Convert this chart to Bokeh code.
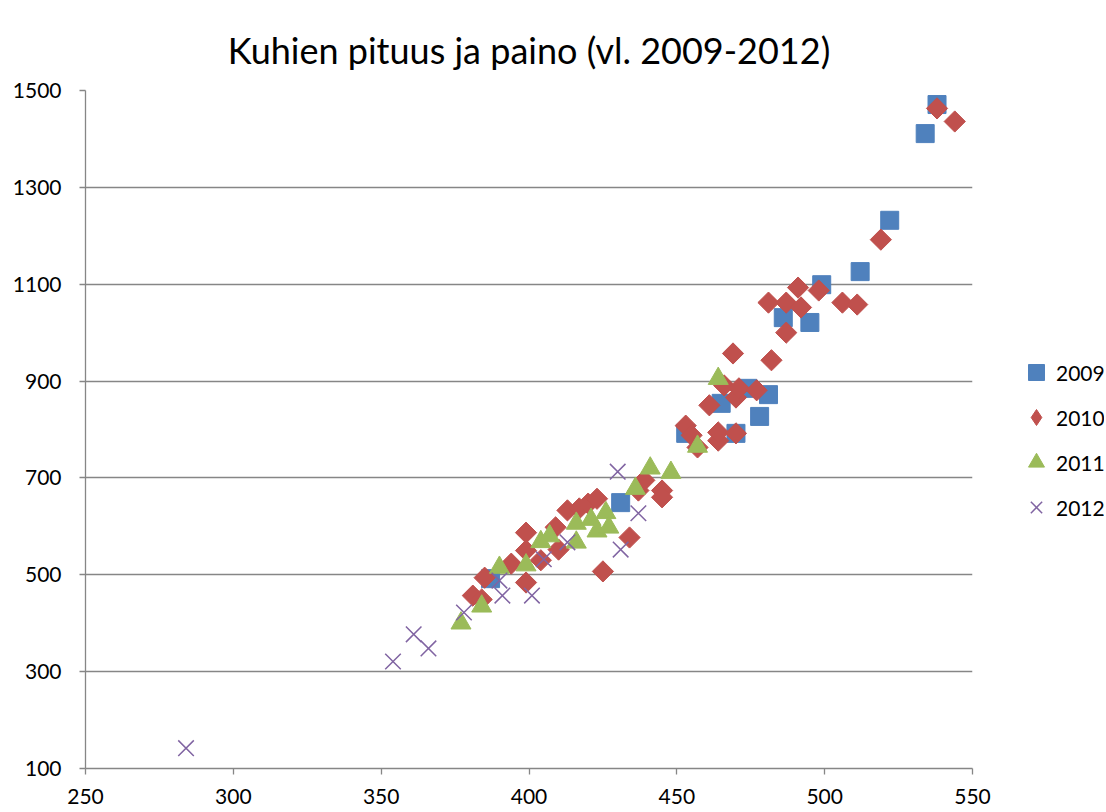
import math
from bokeh.plotting import figure
from bokeh.layouts import row
from bokeh.models import FixedTicker, Range1d, Legend, LegendItem
from bokeh.embed import file_html
from bokeh.resources import INLINE

# --- data: pituus (cm) vs paino (kg) ---
x2009 = [538, 534, 522, 512, 499, 486, 495, 474, 465, 481, 478, 470, 453, 431, 387]
y2009 = [1471, 1411, 1232, 1126, 1099, 1031, 1021, 885, 854, 872, 827, 792, 792, 649, 492]

x2010 = [381, 384, 385, 394, 399, 399, 399, 404, 409, 410, 413, 417, 420, 423, 425, 434,
         437, 439, 445, 445, 453, 455, 457, 461, 464, 464, 466, 470, 470, 471, 477, 469,
         482, 481, 487, 487, 491, 492, 498, 506, 511, 519, 538, 544]
y2010 = [457, 449, 494, 523, 587, 550, 484, 530, 598, 552, 633, 637, 647, 657, 507, 577,
         674, 695, 674, 660, 808, 788, 763, 850, 777, 794, 891, 792, 866, 885, 881, 957,
         943, 1062, 1062, 1000, 1093, 1052, 1087, 1062, 1058, 1192, 1463, 1436]

x2011 = [377, 384, 390, 399, 404, 407, 416, 416, 421, 423, 426, 427, 436, 441, 448, 457, 464]
y2011 = [400, 435, 515, 520, 568, 580, 567, 606, 614, 590, 628, 598, 678, 720, 711, 765, 905]

x2012 = [284, 354, 361, 366, 378, 390, 391, 401, 405, 413, 430, 431, 437]
y2012 = [142, 321, 377, 348, 422, 488, 457, 457, 532, 567, 713, 552, 627]

series_names = ["2009", "2010", "2011", "2012"]
x_ticks = [250, 300, 350, 400, 450, 500, 550]
y_ticks = [100, 300, 500, 700, 900, 1100, 1300, 1500]

FONT = "Lato"
GRID = "#868686"
C09, C10, C11, C12 = "#4F81BD", "#C0504D", "#9BBB59", "#8064A2"

p = figure(width=1000, height=806, output_backend="svg", toolbar_location=None,
           title="Kuhien pituus ja paino (vl. 2009-2012)",
           x_range=Range1d(250, 550), y_range=Range1d(100, 1500),
           min_border_left=85, min_border_right=28, min_border_top=90, min_border_bottom=38)

p.title.align = "center"
p.title.text_font = FONT
p.title.text_font_size = "36px"
p.title.text_font_style = "normal"
p.title.text_color = "#000000"
p.title.standoff = 37
p.outline_line_color = None

for ax in (p.xaxis[0], p.yaxis[0]):
    ax.axis_line_color = GRID
    ax.axis_line_width = 1.3
    ax.major_tick_line_color = GRID
    ax.major_tick_line_width = 1.3
    ax.major_tick_out = 6
    ax.major_tick_in = 0
    ax.minor_tick_line_color = None
    ax.major_label_text_font = FONT
    ax.major_label_text_font_size = "21px"
    ax.major_label_text_color = "#000000"
p.xaxis.ticker = FixedTicker(ticks=x_ticks)
p.yaxis.ticker = FixedTicker(ticks=y_ticks)
p.xaxis.major_label_standoff = 14
p.yaxis.major_label_standoff = 18

p.xgrid.grid_line_color = None
p.ygrid.ticker = FixedTicker(ticks=y_ticks)
p.ygrid.grid_line_color = GRID
p.ygrid.grid_line_width = 1.3

p.scatter(x2009, y2009, marker="square", size=18, fill_color=C09, line_color=C09, line_width=1)
p.scatter(x2010, y2010, marker="square", size=15, angle=math.pi / 4,
          fill_color=C10, line_color=C10, line_width=1)
p.scatter(x2011, y2011, marker="triangle", size=20, fill_color=C11, line_color=C11, line_width=1)
p.scatter(x2012, y2012, marker="x", size=22, line_color=C12, line_width=1.5)

# legend panel: a narrow figure to the right; its ranges keep the series' points out of view,
# so only the legend (built from the same series) shows.
lf = figure(width=104, height=806, output_backend="svg", toolbar_location=None,
            x_range=Range1d(0, 1), y_range=Range1d(0, 1),
            min_border_left=0, min_border_right=0, min_border_top=0, min_border_bottom=0)
lf.axis.visible = False
lf.grid.visible = False
lf.outline_line_color = None

l1 = lf.scatter(x2009, y2009, marker="square", fill_color=C09, line_color=C09)
l2 = lf.scatter(x2010, y2010, marker="diamond", fill_color=C10, line_color=C10)
l3 = lf.scatter(x2011, y2011, marker="triangle", fill_color=C11, line_color=C11)
l4 = lf.scatter(x2012, y2012, marker="x", line_color=C12, line_width=1.5)

legend = Legend(items=[LegendItem(label=series_names[0], renderers=[l1]),
                       LegendItem(label=series_names[1], renderers=[l2]),
                       LegendItem(label=series_names[2], renderers=[l3]),
                       LegendItem(label=series_names[3], renderers=[l4])],
                location=(16, 241), orientation="vertical")
legend.border_line_color = None
legend.background_fill_alpha = 0
legend.label_text_font = FONT
legend.label_text_font_size = "21px"
legend.label_text_color = "#000000"
legend.glyph_width = 40
legend.glyph_height = 40
legend.label_standoff = 0
legend.spacing = 5
legend.padding = 0
legend.margin = 0
lf.add_layout(legend)

layout = row(p, lf, spacing=0)
open("out.html", "w").write(file_html(layout, INLINE))
